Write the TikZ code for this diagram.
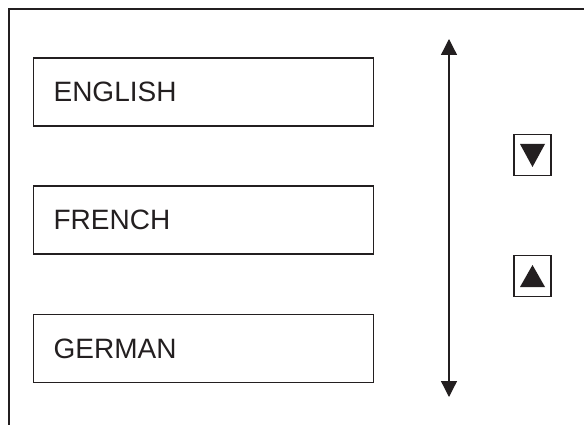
\documentclass[tikz,border=0pt]{standalone}
\usepackage{fontspec}
\setmainfont{Liberation Sans}
\usetikzlibrary{arrows.meta}
\definecolor{ink}{RGB}{35,31,32}

\begin{document}
\begin{tikzpicture}[x=1pt, y=-1pt, ink,
  langbox/.style={draw, line width=1.2pt, anchor=west, minimum height=68pt, text width=300pt, inner xsep=20pt, align=left, font=\fontsize{28}{30}\selectfont},
  button/.style={draw, line width=1.4pt, minimum width=37pt, minimum height=41pt, inner sep=0pt}]
  \useasboundingbox (0,0) rectangle (584,425);
  \draw[line width=2.2pt] (9,425) -- (9,9) -- (584,9);
  \foreach \name/\lang/\y in {english/ENGLISH/92, french/FRENCH/220, german/GERMAN/348.5}{
    \node[langbox] (\name) at (33,\y) {\lang};
  }
  \coordinate (top) at (449,39);
  \coordinate (bottom) at (449,397);
  \draw[line width=1.3pt, {Triangle[width=16pt,length=16pt]}-{Triangle[width=16pt,length=16pt]}] (top) -- (bottom);
  \node[button] (down) at (532.5,155) {};
  \node[button] (up) at (532.5,276) {};
  \fill[shift={(down.center)}] (-12.5,-11) -- (12.5,-11) -- (0,12) -- cycle;
  \fill[shift={(up.center)}] (-12.5,11) -- (12.5,11) -- (0,-11) -- cycle;
\end{tikzpicture}
\end{document}
